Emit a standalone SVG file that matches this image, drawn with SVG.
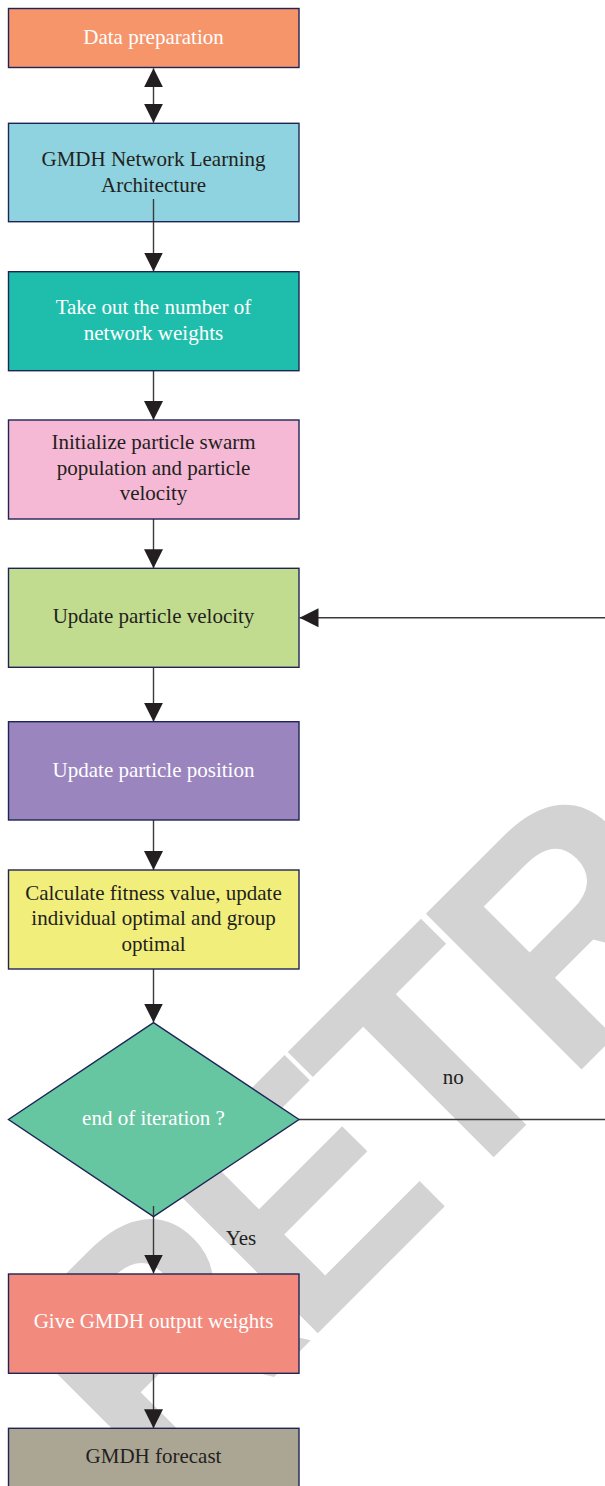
<svg xmlns="http://www.w3.org/2000/svg" width="605" height="1486" viewBox="0 0 605 1486">
<defs>
<style>
.box{stroke:#1e2556;stroke-width:1.4}
.t{font-family:"Liberation Serif","Times New Roman",serif;font-size:21px;text-anchor:middle}
.w{fill:#ffffff}
.d{fill:#231f20}
.c{fill:none;stroke:#3a3a3a;stroke-width:1.4}
.wm{font-family:"Liberation Sans",Arial,sans-serif;font-weight:bold;font-size:320px;fill:#d3d3d3}
</style>
<marker id="ah" markerUnits="userSpaceOnUse" markerWidth="20" markerHeight="20" refX="19" refY="9.5" orient="auto-start-reverse" viewBox="0 0 20 19">
<path d="M0,0 L19,9.5 L0,19 Z" fill="#231f20"/>
</marker>
</defs>
<rect width="605" height="1486" fill="#ffffff"/>
<text class="wm" x="152" y="1499" letter-spacing="-18" transform="rotate(-45 152 1499)">RETRACTED</text>

<g id="connectors">
<line class="c" x1="153.5" y1="68.3" x2="153.5" y2="122.7" marker-start="url(#ah)" marker-end="url(#ah)"/>
<line class="c" x1="153.5" y1="199" x2="153.5" y2="271.5" marker-end="url(#ah)"/>
<line class="c" x1="153.5" y1="370.7" x2="153.5" y2="420" marker-end="url(#ah)"/>
<line class="c" x1="153.5" y1="519" x2="153.5" y2="568.3" marker-end="url(#ah)"/>
<line class="c" x1="153.5" y1="667.3" x2="153.5" y2="721.7" marker-end="url(#ah)"/>
<line class="c" x1="153.5" y1="820" x2="153.5" y2="870" marker-end="url(#ah)"/>
<line class="c" x1="153.5" y1="969" x2="153.5" y2="1022.5" marker-end="url(#ah)"/>
<line class="c" x1="153.5" y1="1206" x2="153.5" y2="1273.5" marker-end="url(#ah)"/>
<line class="c" x1="153.5" y1="1373.3" x2="153.5" y2="1428.3" marker-end="url(#ah)"/>
<path class="c" d="M299,1119.5 L625,1119.5 L625,617.7 L299.5,617.7" marker-end="url(#ah)"/>
</g>

<g id="n1"><rect class="box" x="8.5" y="8.5" width="290.5" height="59" fill="#F6946A"/><text class="t w" x="153.5" y="43.5">Data preparation</text></g>
<g id="n2"><rect class="box" x="8.5" y="123.3" width="290.5" height="98.4" fill="#8ED3DF"/><text class="t d" x="153.5" y="165.7">GMDH Network Learning</text><text class="t d" x="153.5" y="191.7">Architecture</text></g>
<line class="c" x1="153.5" y1="199" x2="153.5" y2="221"/>
<g id="n3"><rect class="box" x="8.5" y="271.7" width="290.5" height="99" fill="#1FBEAC"/><text class="t w" x="153.5" y="313.5">Take out the number of</text><text class="t w" x="153.5" y="339.5">network weights</text></g>
<g id="n4"><rect class="box" x="8.5" y="420" width="290.5" height="99" fill="#F5B9D5"/><text class="t d" x="153.5" y="449.3">Initialize particle swarm</text><text class="t d" x="153.5" y="475">population and particle</text><text class="t d" x="153.5" y="500.3">velocity</text></g>
<g id="n5"><rect class="box" x="8.5" y="568.3" width="290.5" height="99" fill="#C2DC8F"/><text class="t d" x="153.5" y="623.3">Update particle velocity</text></g>
<g id="n6"><rect class="box" x="8.5" y="721.7" width="290.5" height="98.3" fill="#9A85BF"/><text class="t w" x="153.5" y="776.7">Update particle position</text></g>
<g id="n7"><rect class="box" x="8.5" y="870" width="290.5" height="99" fill="#F2EE7B"/><text class="t d" x="153.5" y="900">Calculate fitness value, update</text><text class="t d" x="153.5" y="925.3">individual optimal and group</text><text class="t d" x="153.5" y="950.5">optimal</text></g>
<g id="n8"><polygon class="box" points="153.5,1022.7 299,1119.5 153.5,1216.7 8.5,1119.5" fill="#66C6A2"/><text class="t w" x="153.5" y="1125">end of iteration ?</text></g>
<line class="c" x1="153.5" y1="1206" x2="153.5" y2="1216"/>
<g id="n9"><rect class="box" x="8.5" y="1274" width="290.5" height="99.3" fill="#F38A7E"/><text class="t w" x="153.5" y="1328.3">Give GMDH output weights</text></g>
<g id="n10"><rect class="box" x="8.5" y="1428.3" width="290.5" height="80" fill="#ABA594"/><text class="t d" x="153.5" y="1463.3">GMDH forecast</text></g>

<g id="labels">
<text class="t d" x="453.3" y="1084">no</text>
<text class="t d" x="241" y="1245">Yes</text>
</g>
</svg>
